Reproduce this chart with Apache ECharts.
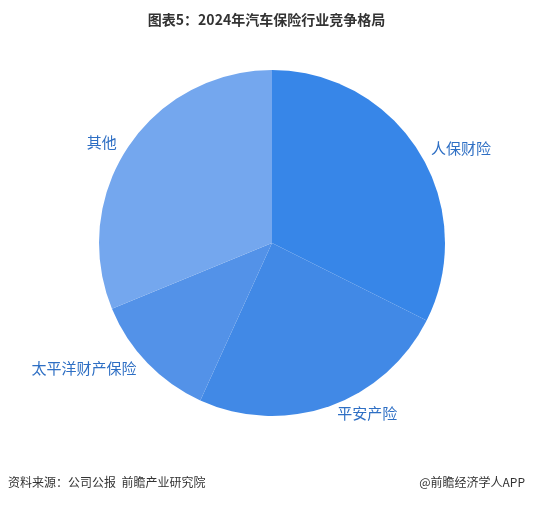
<!DOCTYPE html>
<html><head><meta charset="utf-8">
<script src="https://cdn.jsdelivr.net/npm/echarts@6/dist/echarts.min.js"></script>
<style>html,body{margin:0;padding:0;background:#fff}#c{width:533px;height:505px}</style>
</head><body><div id="c"></div>
<script>
const categories = ['人保财险','平安产险','太平洋财产保险','其他'];
const values = [32.4, 24.4, 12.0, 31.2];
const colors = ['#3786e8','#4189e6','#5392e8','#74a7ee'];
const chart = echarts.init(document.getElementById('c'));
chart.setOption({
  animation:false,
  title:{text:'图表5：2024年汽车保险行业竞争格局',left:'center',top:8,
    textStyle:{fontSize:14,fontWeight:'bold',color:'#333',fontFamily:'Noto Sans CJK SC'}},
  graphic:[
    {type:'text',left:8,top:476,style:{text:'资料来源：公司公报  前瞻产业研究院',fontSize:12,fill:'#333',fontFamily:'Noto Sans CJK SC'}},
    {type:'text',right:8,top:476,style:{text:'@前瞻经济学人APP',fontSize:12,fill:'#333',fontFamily:'Noto Sans CJK SC'}}
  ],
  series:[{type:'pie',center:[272,243],radius:[0,173],startAngle:90,clockwise:true,
    data:categories.map((n,i)=>({name:n,value:values[i],itemStyle:{color:colors[i]}})),
    itemStyle:{borderColor:'#fff',borderWidth:0},
    label:{show:true,position:'outside',color:'#2e6fc4',fontSize:15,fontFamily:'Noto Sans CJK SC',formatter:'{b}'},
    labelLine:{show:false,length:8,length2:0}
  }]
});
</script></body></html>
